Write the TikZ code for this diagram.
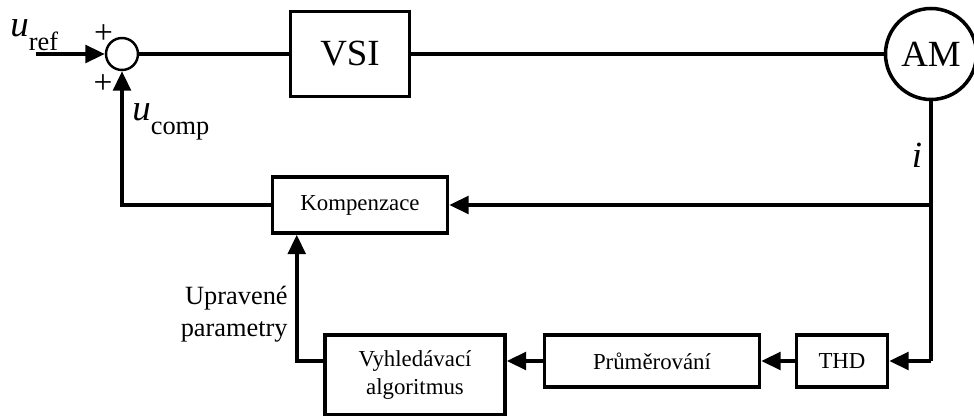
\documentclass[tikz,border=0pt]{standalone}
\usepackage{fontspec}
\setmainfont{Liberation Serif}
\usetikzlibrary{arrows.meta,calc}

\newcommand{\blocktext}{\fontsize{13}{15.5}\selectfont}
\newcommand{\labeltext}{\fontsize{15}{18}\selectfont}
\newcommand{\bigtext}{\fontsize{21}{25}\selectfont}

\begin{document}
\begin{tikzpicture}[
	block/.style={draw,line width=2pt,minimum height=1.04cm,inner sep=0pt,font=\blocktext},
	conn/.style={line width=2pt},
	arr/.style={line width=2pt,-{Triangle[length=11pt,width=10pt]}},
	sumnode/.style={draw,circle,line width=1.4pt,minimum size=0.64cm,inner sep=0pt}]
	\useasboundingbox (0,0) rectangle (19.48,-8.32);
	% draw forward path
	\coordinate (in) at (0.72,-1.08);
	\node[sumnode] (sum) at (2.44,-1.08) {};
	\node[block,minimum width=2.38cm,minimum height=1.7cm,font=\bigtext] (vsi) at (7.0,-1.08) {VSI};
	\node[draw,circle,line width=2pt,minimum size=1.82cm,inner sep=0pt,font=\bigtext] (am) at (18.62,-1.08) {AM};
	\draw[arr] (in) -- (sum.west);
	\draw[conn] (sum.east) -- (vsi.west);
	\draw[conn] (vsi.east) -- (am.west);
	% draw feedback blocks
	\node[block,minimum width=3.5cm,minimum height=1.12cm] (komp) at (7.2,-4.1) {Kompenzace};
	\node[block,minimum width=1.82cm] (thd) at (16.84,-7.22) {THD};
	\node[block,minimum width=4.3cm] (prum) at (13.04,-7.22) {Průměrování};
	\node[block,minimum width=3.6cm,minimum height=1.6cm,align=center] (vyh) at (8.3,-7.5) {Vyhledávací\\algoritmus};
	% draw feedback connections
	\coordinate (branch) at (am.south |- komp.east);
	\draw[conn] (am.south) -- (thd.east -| am.south);
	\draw[arr] (branch) -- (komp.east);
	\draw[arr] (thd.east -| am.south) -- (thd.east);
	\draw[arr] (thd.west) -- (prum.east);
	\draw[arr] (prum.west) -- (prum.west -| vyh.east);
	\coordinate (kin) at ($(komp.south west)+(0.52,0)$);
	\draw[arr] (prum.west -| vyh.west) -- (prum.west -| kin) -- (kin);
	\draw[arr] (komp.west) -| (sum.south);
	% draw labels
	\node[anchor=south west,inner sep=0pt] (uref) at (0.2,-1.02) {\bigtext\textit{u}\raisebox{-0.8ex}{\fontsize{15}{18}\selectfont ref}};
	\node[inner sep=0pt,font=\fontsize{19}{22}\selectfont] (plus1) at (2.07,-0.68) {+};
	\node[inner sep=0pt,font=\fontsize{19}{22}\selectfont] (plus2) at (2.06,-1.68) {+};
	\node[anchor=south west,inner sep=0pt] (ucomp) at (2.64,-2.8) {\bigtext\textit{u}\raisebox{-0.8ex}{\fontsize{15}{18}\selectfont comp}};
	\node[inner sep=0pt,font=\bigtext] (ilab) at (18.34,-3.1) {\textit{i}};
	\node[anchor=east,align=right,inner sep=0pt,font=\labeltext] (par) at (5.76,-6.28) {Upravené\\parametry};
\end{tikzpicture}
\end{document}
